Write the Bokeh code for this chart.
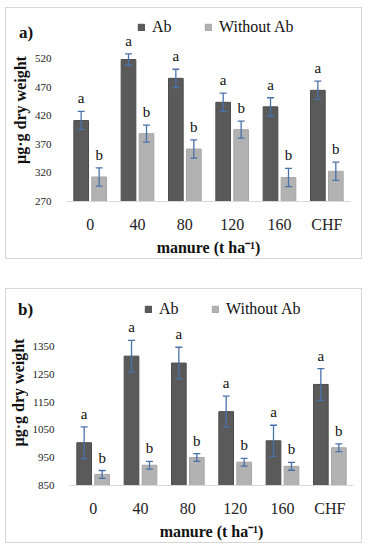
from bokeh.plotting import figure
from bokeh.models import (ColumnDataSource, FactorRange, Range1d, FixedTicker, LabelSet,
                          Legend, LegendItem, Div)
from bokeh.layouts import column
from bokeh.transform import dodge
from bokeh.embed import file_html
from bokeh.resources import INLINE

categories = ["0", "40", "80", "120", "160", "CHF"]

a_ab = [412, 519, 486, 444, 436, 465]
a_ab_err = [16, 10, 16, 16, 16, 16]
a_wo = [313, 389, 362, 396, 312, 323]
a_wo_err = [16, 15, 16, 15, 16, 16]
a_ab_letters = ["a", "a", "a", "a", "a", "a"]
a_wo_letters = ["b", "b", "b", "b", "b", "b"]
a_ticks = [270, 320, 370, 420, 470, 520]

b_ab = [1004, 1316, 1291, 1116, 1011, 1214]
b_ab_err = [57, 57, 57, 56, 56, 57]
b_wo = [890, 923, 951, 934, 919, 986]
b_wo_err = [14, 14, 14, 14, 14, 14]
b_ab_letters = ["a", "a", "a", "a", "a", "a"]
b_wo_letters = ["b", "b", "b", "b", "b", "b"]
b_ticks = [850, 950, 1050, 1150, 1250, 1350]

FONT = "Liberation Serif"
DARK = "#5a5a5a"
LIGHT = "#b2b2b2"
ERR = "#4a72aa"


def panel(ab, ab_err, wo, wo_err, ab_let, wo_let, ticks, ymin, ymax,
          height, b_left, b_top, b_bottom, leg_loc, leg_spacing, lift):
    width = 355
    fw = 284
    fh = height - b_top - b_bottom
    p = figure(x_range=FactorRange(*categories, range_padding=0),
               y_range=Range1d(ymin, ymax),
               width=width, height=height,
               frame_width=fw, frame_height=fh,
               min_border_left=b_left, min_border_right=width - b_left - fw,
               min_border_top=b_top, min_border_bottom=b_bottom,
               output_backend="svg", toolbar_location=None)
    p.margin = (-lift, 0, 0, 0)
    p.border_fill_color = None
    p.outline_line_color = None
    p.xgrid.grid_line_color = None
    p.ygrid.grid_line_color = None

    src = ColumnDataSource(dict(
        cat=categories, ab=ab, wo=wo,
        ab_up=[v + e for v, e in zip(ab, ab_err)],
        ab_lo=[v - e for v, e in zip(ab, ab_err)],
        wo_up=[v + e for v, e in zip(wo, wo_err)],
        wo_lo=[v - e for v, e in zip(wo, wo_err)],
        ab_let=ab_let, wo_let=wo_let,
    ))
    off = 0.19
    bw = 0.31
    r_ab = p.vbar(x=dodge("cat", -off, range=p.x_range), top="ab", bottom=ymin, width=bw,
                  source=src, fill_color=DARK, line_color="#4c4c4c", line_width=1)
    r_wo = p.vbar(x=dodge("cat", off, range=p.x_range), top="wo", bottom=ymin, width=bw,
                  source=src, fill_color=LIGHT, line_color="#a6a6a6", line_width=1)

    for sign, up, lo in ((-off, "ab_up", "ab_lo"), (off, "wo_up", "wo_lo")):
        xs = dodge("cat", sign, range=p.x_range)
        p.segment(x0=xs, y0=lo, x1=xs, y1=up, source=src, line_color=ERR, line_width=1.3)
        p.scatter(x=xs, y=up, marker="dash", size=7, source=src, line_color=ERR, line_width=1.3)
        p.scatter(x=xs, y=lo, marker="dash", size=7, source=src, line_color=ERR, line_width=1.3)

    for sign, up, let in ((-off, "ab_up", "ab_let"), (off, "wo_up", "wo_let")):
        p.add_layout(LabelSet(x=dodge("cat", sign, range=p.x_range), y=up, text=let, source=src,
                              y_offset=8, text_align="center", text_baseline="alphabetic",
                              text_font=FONT, text_font_size="15px", text_color="#111111"))

    legend = Legend(items=[LegendItem(label="Ab", renderers=[r_ab]),
                           LegendItem(label="Without Ab", renderers=[r_wo])],
                    location=leg_loc, orientation="horizontal",
                    padding=0, margin=0, spacing=leg_spacing,
                    glyph_width=8, glyph_height=8, label_standoff=7, label_height=16,
                    label_text_font=FONT, label_text_font_size="16px",
                    label_text_color="#111111",
                    border_line_color=None, background_fill_alpha=0)
    p.add_layout(legend)

    p.yaxis.ticker = FixedTicker(ticks=ticks)
    p.yaxis.axis_line_color = None
    p.yaxis.major_tick_line_color = None
    p.yaxis.minor_tick_line_color = None
    p.yaxis.major_tick_out = 0
    p.yaxis.major_label_standoff = 15
    p.yaxis.major_label_text_font = FONT
    p.yaxis.major_label_text_font_size = "11px"
    p.yaxis.major_label_text_color = "#222222"
    p.yaxis.axis_label = "µg·g dry weight"
    p.yaxis.axis_label_text_font = FONT
    p.yaxis.axis_label_text_font_size = "16px"
    p.yaxis.axis_label_text_font_style = "bold"
    p.yaxis.axis_label_text_color = "#111111"
    p.yaxis.axis_label_standoff = 3

    p.xaxis.axis_line_color = "#d9d9d9"
    p.xaxis.major_tick_line_color = None
    p.xaxis.minor_tick_line_color = None
    p.xaxis.major_tick_out = 0
    p.xaxis.major_label_standoff = 14
    p.xaxis.major_label_text_font = FONT
    p.xaxis.major_label_text_font_size = "16px"
    p.xaxis.major_label_text_color = "#222222"
    p.xaxis.axis_label = "manure (t ha⁻¹)"
    p.xaxis.axis_label_text_font = FONT
    p.xaxis.axis_label_text_font_size = "16px"
    p.xaxis.axis_label_text_font_style = "bold"
    p.xaxis.axis_label_text_color = "#111111"
    p.xaxis.axis_label_standoff = 3
    return p


def tag_div(tag, pad_left, pad_top, lift):
    return Div(text=tag, width=60, height=lift, margin=0,
               styles={"font-family": FONT, "font-size": "17px", "font-weight": "bold",
                       "color": "#111111", "padding-left": f"{pad_left}px",
                       "padding-top": f"{pad_top}px", "box-sizing": "border-box",
                       "line-height": "20px"})


LIFT = 40
pa = panel(a_ab, a_ab_err, a_wo, a_wo_err, a_ab_letters, a_wo_letters, a_ticks,
           270, 591, 249, 60, 10, 56, (71, 165), 32, LIFT)
pb = panel(b_ab, b_ab_err, b_wo, b_wo_err, b_ab_letters, b_wo_letters, b_ticks,
           850, 1520, 252, 63, 10, 56, (75, 167), 32, LIFT)

box_a = column(tag_div("a)", 13, 15, LIFT), pa,
               styles={"border": "1px solid #d6d6d6"}, margin=(7, 0, 0, 5))
box_b = column(tag_div("b)", 12, 11, LIFT), pb,
               styles={"border": "1px solid #d6d6d6"}, margin=(29, 0, 0, 5))
layout = column(box_a, box_b)
open("out.html", "w").write(file_html(layout, INLINE))
